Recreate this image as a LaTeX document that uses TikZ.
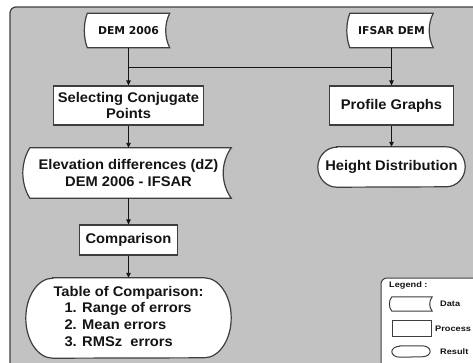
\documentclass[tikz,border=0pt]{standalone}
\usepackage{fontspec}
\setmainfont{Liberation Sans}[FakeStretch=1.05]
\newfontfamily\datafont{DejaVu Sans}
\newfontfamily\legendfont{Liberation Sans}[FakeStretch=1.15]
\usetikzlibrary{arrows.meta,calc}
\pgfdeclarelayer{frame}
\pgfdeclarelayer{shapes}
\pgfsetlayers{frame,shapes,main}
\definecolor{panel}{RGB}{194,194,194}
\definecolor{edge}{RGB}{62,62,62}
\definecolor{ink}{RGB}{20,20,20}

% stored-data outline around a node: #1 node, #2 left bulge, #3 right bulge, #4 right overhang
\newcommand\storedpath[4]{%
  \path[shapeline] (#1.north west) -- ($(#1.north east)+(#4,0)$)
    .. controls ($(#1.north east)!0.3!(#1.south east)+({#4-1.33*#3},0)$)
       and ($(#1.north east)!0.7!(#1.south east)+({#4-1.33*#3},0)$)
    .. ($(#1.south east)+(#4,0)$) -- (#1.south west)
    .. controls ($(#1.north west)!0.7!(#1.south west)+({-1.33*#2},0)$)
       and ($(#1.north west)!0.3!(#1.south west)+({-1.33*#2},0)$)
    .. cycle;}

% terminal outline: half ellipses (x radius #2, y radius #3) closing both ends
\newcommand\terminalpath[3]{%
  \path[shapeline] ($(#1.north west)+(#2,0)$) -- ($(#1.north east)+(-#2,0)$)
    arc[start angle=-90, end angle=90, x radius=#2, y radius=#3]
    -- ($(#1.south west)+(#2,0)$)
    arc[start angle=90, end angle=270, x radius=#2, y radius=#3] -- cycle;}

\begin{document}
\begin{tikzpicture}[x=1pt, y=-1pt,
  lbl/.style={inner sep=0pt, align=center, text=ink,
    font=\bfseries\fontsize{14}{16.8}\selectfont},
  datalbl/.style={inner sep=0pt, align=center, text=ink,
    font=\datafont\bfseries\fontsize{10.8}{13}\selectfont},
  procbox/.style={lbl, draw=edge, fill=white, line width=1.2pt},
  shapeline/.style={draw=edge, fill=white, line width=1.2pt},
  legtext/.style={inner sep=0pt, anchor=west, text=ink,
    font=\legendfont\bfseries\fontsize{8}{9.6}\selectfont},
  flow/.style={draw=ink, line width=0.9pt, -{Triangle[length=5pt,width=4.5pt]}},
  wire/.style={draw=ink, line width=0.9pt}]

\useasboundingbox (0,0) rectangle (473,362);

% inputs
\node[datalbl, minimum width=82pt, minimum height=34pt] (dem) at (128.5,30.5) {DEM 2006};
\node[datalbl, minimum width=83pt, minimum height=34pt] (ifsar) at (391.5,30.5) {IFSAR DEM};

% left branch
\node[procbox, minimum width=150pt, minimum height=39pt] (sel) at (128.5,105.5) {Selecting Conjugate\\Points};
\node[lbl, minimum width=197pt, minimum height=50pt] (elev) at (128.5,173) {Elevation differences (dZ)\\DEM 2006 - IFSAR};
\node[procbox, minimum width=98pt, minimum height=30pt] (comp) at (128.5,240) {Comparison};
\node[lbl, minimum width=205pt, minimum height=80pt] (tab) at (128.5,318)
  {\begin{tabular}{@{}l@{}}Table of Comparison:\hspace{9pt}\\
   \hspace{11pt}1. Range of errors\\
   \hspace{11pt}2. Mean errors\\
   \hspace{11pt}3. RMSz\ \ errors\end{tabular}};

% right branch
\node[procbox, minimum width=124pt, minimum height=39pt] (prof) at (391.5,105.5) {Profile Graphs};
\node[lbl, minimum width=147pt, minimum height=40pt] (hd) at (391.5,167) {Height Distribution};

% legend
\node[legtext] (legtitle) at (389,285) {Legend :};
\node[inner sep=0pt, minimum width=40pt, minimum height=14pt] (ldata) at (412,304) {};
\node[inner sep=0pt, draw=edge, fill=white, line width=1pt, minimum width=39pt, minimum height=16pt] (lproc) at (411.5,328) {};
\node[inner sep=0pt, minimum width=38pt, minimum height=11pt] (lres) at (411,351.5) {};
\node[legtext] (tdata) at (440,304) {Data};
\node[legtext] (tproc) at (435,329) {Process};
\node[legtext] (tres) at (440,351.5) {Result};

% connectors
\coordinate (j) at (128.5,67);
\coordinate (k) at (391.5,67);
\draw[flow] (dem) -- (sel);
\draw[wire] (j) -- (k);
\draw[flow] (ifsar) -- (prof);
\draw[flow] (sel) -- (elev);
\draw[flow] (elev) -- (comp);
\draw[flow] (comp) -- (tab);
\draw[flow] (prof) -- (hd);

% outlines behind the labels
\begin{pgfonlayer}{shapes}
  \storedpath{dem}{3}{4}{0}
  \storedpath{ifsar}{3}{4}{0}
  \storedpath{elev}{7}{8}{4}
  \terminalpath{tab}{27}{40}
  \terminalpath{hd}{19}{20}
  \begin{scope}[shapeline/.append style={line width=1pt}]
    \storedpath{ldata}{2.5}{2.5}{0}
    \terminalpath{lres}{8}{5.5}
  \end{scope}
\end{pgfonlayer}

% panel and legend frame
\begin{pgfonlayer}{frame}
  \fill[white] (0,0) rectangle (473,362);
  \draw[edge, line width=1.2pt, fill=panel, rounded corners=6pt] (10,7) rectangle (530,410);
  \draw[edge, line width=1pt, fill=white, rounded corners=6pt] (381,278) rectangle (530,410);
\end{pgfonlayer}
\end{tikzpicture}
\end{document}
